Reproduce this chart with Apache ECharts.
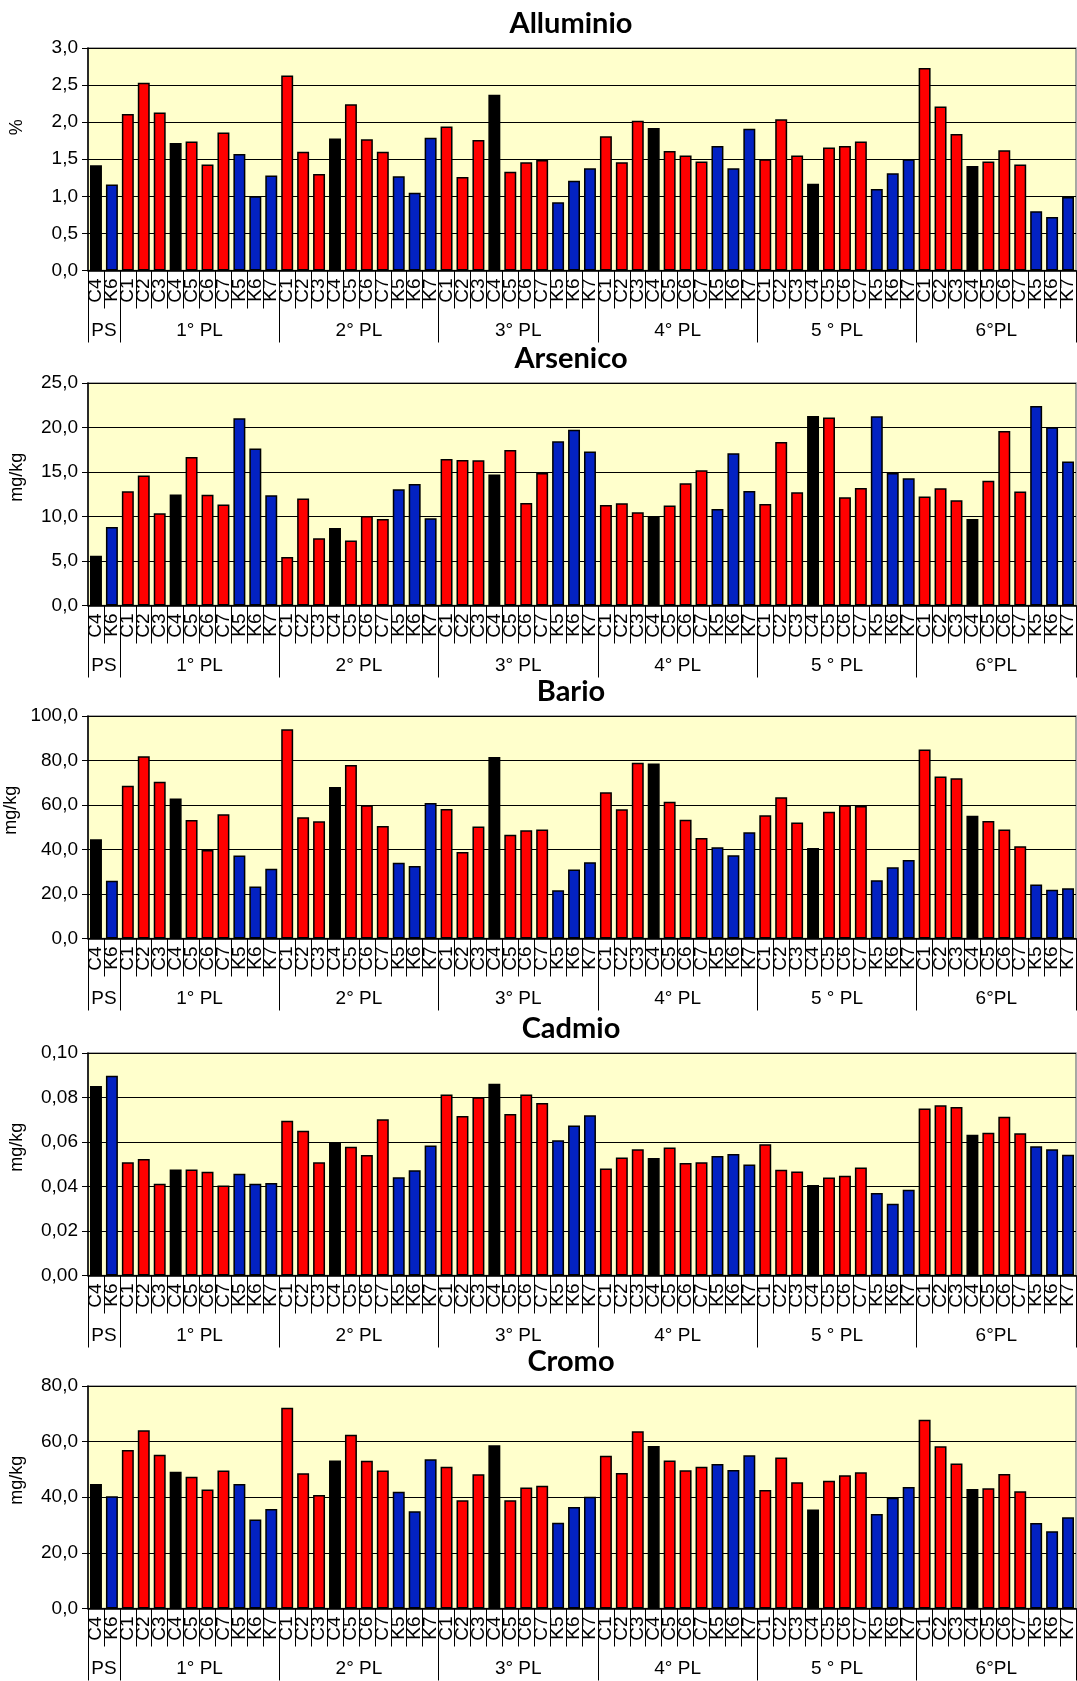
<!DOCTYPE html>
<html>
<head>
<meta charset="utf-8">
<script src="https://cdn.jsdelivr.net/npm/echarts@6/dist/echarts.min.js"></script>
<style>
html,body{margin:0;padding:0;background:#fff;}
#chart{width:1077px;height:1681px;}
</style>
</head>
<body>
<div id="chart"></div>
<script>
// ---- data ----
const groupNames = ['PS', '1° PL', '2° PL', '3° PL', '4° PL', '5 ° PL', '6°PL'];
const psCats = ['C4', 'K6'];
const plCats = ['C1', 'C2', 'C3', 'C4', 'C5', 'C6', 'C7', 'K5', 'K6', 'K7'];

const alluminio = [
  1.42, 1.16,
  2.11, 2.53, 2.13, 1.72, 1.74, 1.43, 1.86, 1.57, 1.00, 1.28,
  2.63, 1.60, 1.30, 1.78, 2.24, 1.77, 1.60, 1.27, 1.05, 1.79,
  1.94, 1.26, 1.76, 2.37, 1.33, 1.46, 1.49, 0.92, 1.21, 1.38,
  1.81, 1.46, 2.02, 1.92, 1.61, 1.55, 1.47, 1.68, 1.38, 1.91,
  1.50, 2.04, 1.55, 1.17, 1.66, 1.68, 1.74, 1.10, 1.31, 1.50,
  2.73, 2.21, 1.84, 1.41, 1.47, 1.62, 1.43, 0.80, 0.72, 0.99
];
const arsenico = [
  5.6, 8.83,
  12.84, 14.6, 10.37, 12.46, 16.69, 12.43, 11.34, 21.03, 17.63, 12.39,
  5.46, 12.01, 7.56, 8.72, 7.3, 10.07, 9.73, 13.06, 13.66, 9.81,
  16.47, 16.35, 16.32, 14.71, 17.48, 11.53, 14.9, 18.45, 19.76, 17.29,
  11.3, 11.49, 10.48, 9.99, 11.23, 13.74, 15.19, 10.85, 17.1, 12.87,
  11.41, 18.38, 12.72, 21.3, 21.11, 12.16, 13.21, 21.26, 14.9, 14.3,
  12.24, 13.17, 11.83, 9.73, 14.03, 19.61, 12.8, 22.42, 20.02, 16.17
];
const bario = [
  44.6, 26.0,
  68.6, 81.9, 70.4, 62.9, 53.3, 39.8, 55.8, 37.3, 23.4, 31.3,
  94.0, 54.5, 52.7, 68.1, 78.0, 59.9, 50.6, 34.1, 32.6, 60.9,
  58.2, 38.9, 50.3, 81.6, 46.6, 48.7, 49.0, 21.7, 31.0, 34.3,
  65.7, 58.1, 79.0, 78.7, 61.5, 53.4, 45.2, 41.0, 37.4, 47.8,
  55.4, 63.5, 52.1, 40.7, 57.0, 59.9, 59.6, 26.2, 32.0, 35.3,
  84.9, 72.8, 72.0, 55.2, 52.8, 49.0, 41.5, 24.3, 21.9, 22.6
];
const cadmio = [
  0.0852, 0.0898,
  0.0509, 0.0524, 0.0412, 0.0476, 0.0476, 0.0466, 0.0404, 0.0457, 0.0412, 0.0416,
  0.0696, 0.0651, 0.0509, 0.0597, 0.0579, 0.0542, 0.0702, 0.0442, 0.0473, 0.0584,
  0.0813, 0.0717, 0.0801, 0.0862, 0.0726, 0.0814, 0.0775, 0.0608, 0.0674, 0.0720,
  0.0481, 0.0530, 0.0567, 0.0528, 0.0575, 0.0506, 0.0509, 0.0537, 0.0546, 0.0499,
  0.0590, 0.0475, 0.0467, 0.0407, 0.0440, 0.0448, 0.0485, 0.0371, 0.0323, 0.0385,
  0.0751, 0.0765, 0.0757, 0.0633, 0.0642, 0.0713, 0.0639, 0.0581, 0.0567, 0.0543
];
const cromo = [
  44.8, 40.4,
  57.0, 64.1, 55.3, 49.2, 47.4, 42.8, 49.6, 44.8, 32.0, 35.8,
  72.2, 48.6, 40.8, 53.2, 62.5, 53.1, 49.6, 42.0, 35.0, 53.7,
  51.0, 38.9, 48.3, 58.7, 38.9, 43.5, 44.1, 30.8, 36.5, 40.2,
  54.9, 48.7, 63.7, 58.4, 53.2, 49.7, 51.0, 52.0, 49.8, 55.1,
  42.6, 54.3, 45.4, 35.6, 45.9, 47.9, 49.0, 34.0, 39.8, 43.7,
  67.9, 58.3, 52.1, 43.0, 43.2, 48.4, 42.2, 30.7, 27.8, 32.8
];

const titles = ['Alluminio', 'Arsenico', 'Bario', 'Cadmio', 'Cromo'];
const units = ['%', 'mg/kg', 'mg/kg', 'mg/kg', 'mg/kg'];
const yMax = [3, 25, 100, 0.10, 80];
const yStep = [0.5, 5, 20, 0.02, 20];
const yDecimals = [1, 1, 1, 2, 1];
const seriesData = [alluminio, arsenico, bario, cadmio, cromo];

// ---- build ----
const categories = psCats.slice();
for (let g = 1; g < groupNames.length; g++) categories.push(...plCats);
// group axis: each slot = 2 categories (PS = 1 slot, each PL = 5 slots)
const groupSlots = [];
const groupTickIdx = [];
const groupSlotCount = [1, 5, 5, 5, 5, 5, 5];
groupSlotCount.forEach((n, g) => {
  groupTickIdx.push(groupSlots.length);
  const mid = Math.floor(n / 2);
  for (let k = 0; k < n; k++) groupSlots.push(k === mid ? groupNames[g] : '');
});

const RED = '#FF0000', BLUE = '#0322C2', BLACK = '#000000';
function barColor(cat) {
  if (cat === 'C4') return BLACK;
  return cat.charAt(0) === 'K' ? BLUE : RED;
}

const LEFT = 88, WIDTH = 988;
const tops = [48, 383, 716, 1053, 1386];
const PH = 222.5;
const FONT = 'Liberation Sans, Arial, sans-serif';

const option = {
  animation: false,
  backgroundColor: '#ffffff',
  title: [], grid: [], xAxis: [], yAxis: [], series: []
};

for (let i = 0; i < 5; i++) {
  option.title.push({
    text: titles[i],
    left: 566, textAlign: 'center',
    top: tops[i] - 44,
    textStyle: { fontFamily: 'Lato', fontWeight: 'bold', fontSize: 29, color: '#000' }
  });
  option.grid.push({
    left: LEFT, width: WIDTH, top: tops[i], height: PH,
    containLabel: false, outerBoundsMode: 'none',
    show: true, backgroundColor: '#FFFFCC', borderColor: '#8c8c8c', borderWidth: 1.5
  });
  option.xAxis.push({
    type: 'category', gridIndex: i, data: categories, position: 'bottom',
    axisLine: { show: true, lineStyle: { color: '#000', width: 1.5 } },
    axisTick: { show: true, interval: 0, length: 38, lineStyle: { color: '#000', width: 1 } },
    axisLabel: { interval: 0, rotate: 90, margin: 8, fontSize: 19, color: '#000', fontFamily: FONT }
  });
  option.xAxis.push({
    type: 'category', gridIndex: i, data: groupSlots, position: 'bottom',
    axisLine: { show: false },
    axisTick: {
      show: true, length: 72, lineStyle: { color: '#000', width: 1 },
      interval: function (idx) { return groupTickIdx.indexOf(idx) >= 0; }
    },
    axisLabel: { interval: 0, margin: 51, fontSize: 19, color: '#000', fontFamily: FONT }
  });
  const dec = yDecimals[i];
  option.yAxis.push({
    type: 'value', gridIndex: i, min: 0, max: yMax[i], interval: yStep[i],
    name: units[i], nameLocation: 'middle', nameGap: 62,
    nameTextStyle: { fontSize: 18, color: '#000', fontFamily: FONT, padding: i === 0 ? [0, 0, 0, 64] : [0, 0, 0, 34] },
    axisLine: { show: true, lineStyle: { color: '#000', width: 1.5 } },
    axisTick: { show: true, inside: false, length: 6, lineStyle: { color: '#000' } },
    axisLabel: {
      margin: 10, fontSize: 19, color: '#000', fontFamily: FONT,
      formatter: function (v) { return v.toFixed(dec).replace('.', ','); }
    },
    splitLine: { show: true, lineStyle: { color: '#000', width: 1 } }
  });
  option.series.push({
    type: 'bar', xAxisIndex: 2 * i, yAxisIndex: i,
    barCategoryGap: '25%',
    data: seriesData[i].map((v, k) => ({
      value: v,
      itemStyle: { color: barColor(categories[k]) }
    })),
    itemStyle: { borderColor: '#000', borderWidth: 1.5 }
  });
}

const chart = echarts.init(document.getElementById('chart'), null, { renderer: 'canvas' });
chart.setOption(option);
</script>
</body>
</html>
